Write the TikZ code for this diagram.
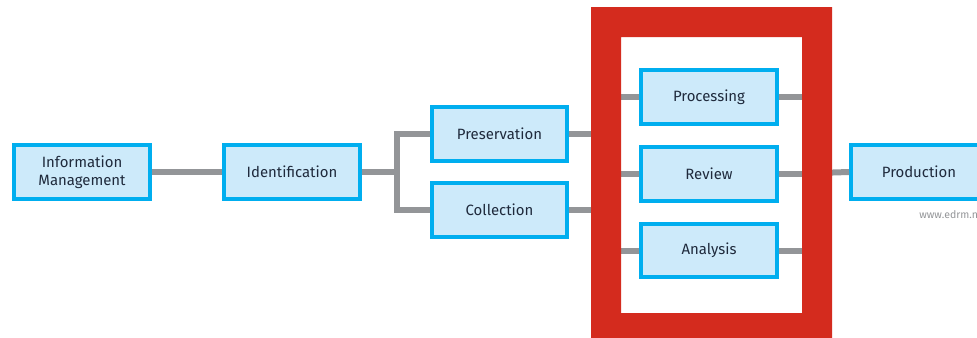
\documentclass[tikz,border=0pt]{standalone}
\usepackage{fontspec}
\setmainfont{Fira Sans}
\usepackage{tikz}

\definecolor{boxblue}{HTML}{00AEEF}
\definecolor{boxfill}{HTML}{CDEAFA}
\definecolor{linkgray}{HTML}{939598}
\definecolor{framered}{HTML}{D42B1E}
\definecolor{textnavy}{HTML}{1F2A3C}

\tikzset{
  stage/.style={draw=boxblue, fill=boxfill, line width=0.08cm,
    minimum width=2.72cm, minimum height=1.08cm, inner sep=0pt,
    align=center, text=textnavy, font=\fontsize{8.5}{10}\selectfont},
  link/.style={draw=linkgray, line width=0.12cm, line join=miter}
}

\begin{document}
\begin{tikzpicture}[x=0.02cm, y=-0.02cm]
                \useasboundingbox (0,0) rectangle (977,338);
                % Nodes
                \node[stage] (info) at (82,172) {Information\\Management};
                \node[stage] (ident) at (292,172) {Identification};
                \node[stage] (pres) at (499.5,134) {Preservation};
                \node[stage] (coll) at (499.5,210) {Collection};
                \node[stage] (proc) at (709,97) {Processing};
                \node[stage] (rev) at (709,174) {Review};
                \node[stage] (ana) at (709,250.5) {Analysis};
                \node[stage] (prod) at (919,172) {Production};
                \node[anchor=west, text=linkgray, font=\fontsize{6}{7}\selectfont, inner sep=0pt] (web) at (919,215) {www.edrm.net};
                \coordinate (split) at (397,172);
                \coordinate (busL) at (606,172);
                \coordinate (busR) at (817,173);
                % Edges
                \draw[link] (info.east) -- (ident.west);
                \draw[link] (ident.east) -- (split);
                \draw[link] (split) |- (pres.west);
                \draw[link] (split) |- (coll.west);
                \draw[link] (pres.east) -| (busL);
                \draw[link] (coll.east) -| (busL);
                \draw[link] (busL) |- (proc.west);
                \draw[link] (busL) |- (rev.west);
                \draw[link] (busL) |- (ana.west);
                \draw[link] (proc.east) -| (busR);
                \draw[link] (rev.east) -| (busR);
                \draw[link] (ana.east) -| (busR);
                \draw[link] (busR) -- (prod.west);
                % Frame
                \fill[framered, even odd rule] (591,7) rectangle (832,345) (621,37) rectangle (802,313);
            \end{tikzpicture}
\end{document}
